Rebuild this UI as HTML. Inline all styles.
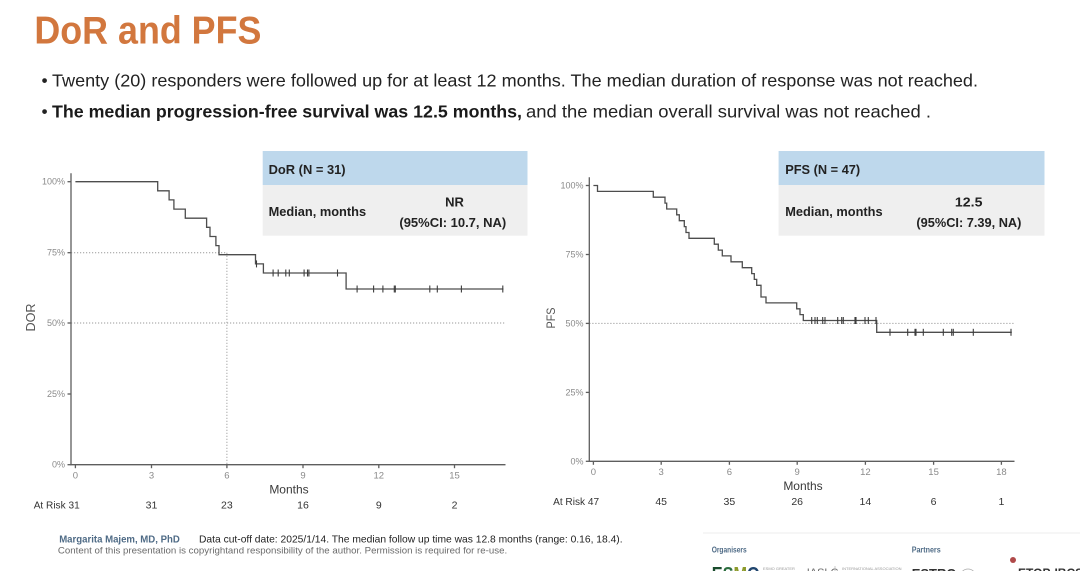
<!DOCTYPE html>
<html>
<head>
<meta charset="utf-8">
<style>
  html, body { margin:0; padding:0; background:#ffffff; }
  body { width:1080px; height:571px; overflow:hidden; }
  svg { display:block; }
  text { font-family: "Liberation Sans", Arial, sans-serif; }
</style>
</head>
<body>
<svg width="1080" height="571" viewBox="0 0 1080 571" xmlns="http://www.w3.org/2000/svg">
  <rect x="0" y="0" width="1080" height="571" fill="#ffffff"/>

  <!-- Title -->
  <text x="34.4" y="43.3" font-size="39" font-weight="bold" fill="#d2773e" textLength="227" lengthAdjust="spacingAndGlyphs">DoR and PFS</text>

  <!-- Bullets -->
  <text x="41.5" y="86.5" font-size="17.5" fill="#222">•</text>
  <text x="52" y="86.5" font-size="17.5" fill="#222" textLength="926" lengthAdjust="spacingAndGlyphs">Twenty (20) responders were followed up for at least 12 months. The median duration of response was not reached.</text>
  <text x="41.5" y="117.5" font-size="17.5" fill="#222">•</text>
  <text x="52" y="117.5" font-size="17.5" font-weight="bold" fill="#1a1a1a" textLength="470" lengthAdjust="spacingAndGlyphs">The median progression-free survival was 12.5 months,</text>
  <text x="526" y="117.5" font-size="17.5" fill="#222" textLength="405" lengthAdjust="spacingAndGlyphs">and the median overall survival was not reached .</text>

  <!-- ================= DoR chart ================= -->
  <!-- table -->
  <rect x="262.7" y="151" width="264.8" height="34" fill="#bed8ec"/>
  <rect x="262.7" y="185" width="264.8" height="50.7" fill="#efefef"/>
  <text x="268.6" y="174" font-size="13" font-weight="bold" fill="#222" textLength="77" lengthAdjust="spacingAndGlyphs">DoR (N = 31)</text>
  <text x="268.6" y="216" font-size="13" font-weight="bold" fill="#222" textLength="97.5" lengthAdjust="spacingAndGlyphs">Median, months</text>
  <text x="454.5" y="206.5" font-size="13" font-weight="bold" fill="#222" text-anchor="middle">NR</text>
  <text x="452.8" y="227" font-size="13" font-weight="bold" fill="#222" text-anchor="middle" textLength="106.8" lengthAdjust="spacingAndGlyphs">(95%CI: 10.7, NA)</text>

  <!-- dotted reference lines -->
  <g stroke="#9a9a9a" stroke-width="1" stroke-dasharray="1.2,1.8" fill="none">
    <line x1="71" y1="252.7" x2="226.9" y2="252.7"/>
    <line x1="226.9" y1="252.7" x2="226.9" y2="464.7"/>
    <line x1="71" y1="323" x2="506" y2="323"/>
  </g>

  <!-- axes -->
  <g stroke="#5e5e5e" stroke-width="1.3" fill="none">
    <line x1="71" y1="173.3" x2="71" y2="465.3"/>
    <line x1="70.4" y1="464.7" x2="505.5" y2="464.7"/>
    <line x1="67.5" y1="181.7" x2="71" y2="181.7"/>
    <line x1="67.5" y1="252.7" x2="71" y2="252.7"/>
    <line x1="67.5" y1="323" x2="71" y2="323"/>
    <line x1="67.5" y1="394" x2="71" y2="394"/>
    <line x1="67.5" y1="464.7" x2="71" y2="464.7"/>
    <line x1="75.4" y1="464.7" x2="75.4" y2="468.2"/>
    <line x1="151.5" y1="464.7" x2="151.5" y2="468.2"/>
    <line x1="226.9" y1="464.7" x2="226.9" y2="468.2"/>
    <line x1="303" y1="464.7" x2="303" y2="468.2"/>
    <line x1="378.8" y1="464.7" x2="378.8" y2="468.2"/>
    <line x1="454.5" y1="464.7" x2="454.5" y2="468.2"/>
  </g>
  <g font-size="9" fill="#8a8a8a" text-anchor="end">
    <text x="65" y="184.7">100%</text>
    <text x="65" y="255.7">75%</text>
    <text x="65" y="326">50%</text>
    <text x="65" y="397">25%</text>
    <text x="65" y="467.7">0%</text>
  </g>
  <g font-size="9.5" fill="#8a8a8a" text-anchor="middle">
    <text x="75.4" y="478.5">0</text>
    <text x="151.5" y="478.5">3</text>
    <text x="226.9" y="478.5">6</text>
    <text x="303" y="478.5">9</text>
    <text x="378.8" y="478.5">12</text>
    <text x="454.5" y="478.5">15</text>
  </g>
  <text x="289" y="493.5" font-size="12" fill="#3a3a3a" text-anchor="middle">Months</text>
  <text transform="translate(35,317.5) rotate(-90)" font-size="12.5" fill="#555" text-anchor="middle" textLength="28" lengthAdjust="spacingAndGlyphs">DOR</text>

  <!-- at risk -->
  <g font-size="10.5" fill="#333">
    <text x="33.7" y="508.3" textLength="46" lengthAdjust="spacingAndGlyphs">At Risk 31</text>
    <g text-anchor="middle">
      <text x="151.5" y="508.3">31</text>
      <text x="226.9" y="508.3">23</text>
      <text x="303" y="508.3">16</text>
      <text x="378.8" y="508.3">9</text>
      <text x="454.5" y="508.3">2</text>
    </g>
  </g>

  <!-- DoR curve -->
  <path d="M75.4,181.7 H157.7 V190.8 H169.1 V199.9 H173.9 V209.1 H185.3 V218.2 H206.6 V227.3 H210 V236.5 H215.9 V245.6 H219 V254.7 H255.5 V263.9 H263.4 V273 H346.1 V289 H503.4" stroke="#4d4d4d" stroke-width="1.3" fill="none"/>
  <g stroke="#3d3d3d" stroke-width="1.1">
    <line x1="256.5" y1="260.4" x2="256.5" y2="267.4"/>
    <line x1="273.1" y1="269.5" x2="273.1" y2="276.5"/>
    <line x1="278.2" y1="269.5" x2="278.2" y2="276.5"/>
    <line x1="285.8" y1="269.5" x2="285.8" y2="276.5"/>
    <line x1="289.3" y1="269.5" x2="289.3" y2="276.5"/>
    <line x1="304.1" y1="269.5" x2="304.1" y2="276.5"/>
    <line x1="307.5" y1="269.5" x2="307.5" y2="276.5"/>
    <line x1="308.9" y1="269.5" x2="308.9" y2="276.5"/>
    <line x1="337.5" y1="269.5" x2="337.5" y2="276.5"/>
    <line x1="357.1" y1="285.5" x2="357.1" y2="292.5"/>
    <line x1="373.6" y1="285.5" x2="373.6" y2="292.5"/>
    <line x1="382.9" y1="285.5" x2="382.9" y2="292.5"/>
    <line x1="394.3" y1="285.5" x2="394.3" y2="292.5"/>
    <line x1="395.3" y1="285.5" x2="395.3" y2="292.5"/>
    <line x1="429.8" y1="285.5" x2="429.8" y2="292.5"/>
    <line x1="437.3" y1="285.5" x2="437.3" y2="292.5"/>
    <line x1="461.4" y1="285.5" x2="461.4" y2="292.5"/>
    <line x1="502.8" y1="285.5" x2="502.8" y2="292.5"/>
  </g>

  <!-- ================= PFS chart ================= -->
  <rect x="778.6" y="151" width="265.9" height="34" fill="#bed8ec"/>
  <rect x="778.6" y="185" width="265.9" height="50.7" fill="#efefef"/>
  <text x="785.2" y="174" font-size="13" font-weight="bold" fill="#222" textLength="75" lengthAdjust="spacingAndGlyphs">PFS (N = 47)</text>
  <text x="785.2" y="216" font-size="13" font-weight="bold" fill="#222" textLength="97.4" lengthAdjust="spacingAndGlyphs">Median, months</text>
  <text x="968.7" y="206.5" font-size="13" font-weight="bold" fill="#222" text-anchor="middle" textLength="27.5" lengthAdjust="spacingAndGlyphs">12.5</text>
  <text x="968.9" y="227" font-size="13" font-weight="bold" fill="#222" text-anchor="middle" textLength="105" lengthAdjust="spacingAndGlyphs">(95%CI: 7.39, NA)</text>

  <g stroke="#9a9a9a" stroke-width="1" stroke-dasharray="1.2,1.8" fill="none">
    <line x1="589.3" y1="323.4" x2="1014" y2="323.4"/>
  </g>

  <g stroke="#5e5e5e" stroke-width="1.3" fill="none">
    <line x1="589.3" y1="177.3" x2="589.3" y2="461.9"/>
    <line x1="588.7" y1="461.3" x2="1014.5" y2="461.3"/>
    <line x1="585.8" y1="185.5" x2="589.3" y2="185.5"/>
    <line x1="585.8" y1="254.5" x2="589.3" y2="254.5"/>
    <line x1="585.8" y1="323.4" x2="589.3" y2="323.4"/>
    <line x1="585.8" y1="392.4" x2="589.3" y2="392.4"/>
    <line x1="585.8" y1="461.3" x2="589.3" y2="461.3"/>
    <line x1="593.4" y1="461.3" x2="593.4" y2="464.8"/>
    <line x1="661.2" y1="461.3" x2="661.2" y2="464.8"/>
    <line x1="729.4" y1="461.3" x2="729.4" y2="464.8"/>
    <line x1="797.2" y1="461.3" x2="797.2" y2="464.8"/>
    <line x1="865.4" y1="461.3" x2="865.4" y2="464.8"/>
    <line x1="933.6" y1="461.3" x2="933.6" y2="464.8"/>
    <line x1="1001.4" y1="461.3" x2="1001.4" y2="464.8"/>
  </g>
  <g font-size="9" fill="#8a8a8a" text-anchor="end">
    <text x="583.5" y="188.5">100%</text>
    <text x="583.5" y="257.5">75%</text>
    <text x="583.5" y="326.4">50%</text>
    <text x="583.5" y="395.4">25%</text>
    <text x="583.5" y="464.3">0%</text>
  </g>
  <g font-size="9.5" fill="#8a8a8a" text-anchor="middle">
    <text x="593.4" y="475.2">0</text>
    <text x="661.2" y="475.2">3</text>
    <text x="729.4" y="475.2">6</text>
    <text x="797.2" y="475.2">9</text>
    <text x="865.4" y="475.2">12</text>
    <text x="933.6" y="475.2">15</text>
    <text x="1001.4" y="475.2">18</text>
  </g>
  <text x="803" y="490" font-size="12" fill="#3a3a3a" text-anchor="middle">Months</text>
  <text transform="translate(555,318) rotate(-90)" font-size="11.5" fill="#555" text-anchor="middle" textLength="21" lengthAdjust="spacingAndGlyphs">PFS</text>

  <g font-size="10.5" fill="#333">
    <text x="553.1" y="505" textLength="46" lengthAdjust="spacingAndGlyphs">At Risk 47</text>
    <g text-anchor="middle">
      <text x="661.2" y="505">45</text>
      <text x="729.4" y="505">35</text>
      <text x="797.2" y="505">26</text>
      <text x="865.4" y="505">14</text>
      <text x="933.6" y="505">6</text>
      <text x="1001.4" y="505">1</text>
    </g>
  </g>

  <path d="M593.4,185.5 H597.5 V191.4 H653.3 V197.2 H665 V203.1 H666.7 V209 H676.7 V214.8 H679.3 V220.7 H684.3 V226.6 H686 V232.5 H689 V238.3 H714.3 V244.2 H718.3 V250.1 H722.3 V255.9 H731 V261.8 H742.3 V267.7 H751.7 V273.6 H754.3 V279.4 H756.7 V285.3 H761 V297 H766 V302.9 H796.7 V308.8 H800 V314.6 H803.3 V320.5 H876.7 V332.3 H1011.8" stroke="#4d4d4d" stroke-width="1.3" fill="none"/>
  <g stroke="#3d3d3d" stroke-width="1.1">
    <line x1="811.7" y1="317" x2="811.7" y2="324"/>
    <line x1="815" y1="317" x2="815" y2="324"/>
    <line x1="817.3" y1="317" x2="817.3" y2="324"/>
    <line x1="822.7" y1="317" x2="822.7" y2="324"/>
    <line x1="825" y1="317" x2="825" y2="324"/>
    <line x1="837.7" y1="317" x2="837.7" y2="324"/>
    <line x1="841.7" y1="317" x2="841.7" y2="324"/>
    <line x1="843.3" y1="317" x2="843.3" y2="324"/>
    <line x1="855" y1="317" x2="855" y2="324"/>
    <line x1="856" y1="317" x2="856" y2="324"/>
    <line x1="865" y1="317" x2="865" y2="324"/>
    <line x1="868.3" y1="317" x2="868.3" y2="324"/>
    <line x1="876" y1="317" x2="876" y2="324"/>
    <line x1="890" y1="328.8" x2="890" y2="335.8"/>
    <line x1="907.7" y1="328.8" x2="907.7" y2="335.8"/>
    <line x1="915" y1="328.8" x2="915" y2="335.8"/>
    <line x1="916" y1="328.8" x2="916" y2="335.8"/>
    <line x1="923.3" y1="328.8" x2="923.3" y2="335.8"/>
    <line x1="943.3" y1="328.8" x2="943.3" y2="335.8"/>
    <line x1="951.7" y1="328.8" x2="951.7" y2="335.8"/>
    <line x1="953.3" y1="328.8" x2="953.3" y2="335.8"/>
    <line x1="973.3" y1="328.8" x2="973.3" y2="335.8"/>
    <line x1="1011" y1="328.8" x2="1011" y2="335.8"/>
  </g>

  <!-- ================= Footer ================= -->
  <text x="59.2" y="542.5" font-size="10" font-weight="bold" fill="#4f6b86" textLength="120.6" lengthAdjust="spacingAndGlyphs">Margarita Majem, MD, PhD</text>
  <text x="199" y="542.5" font-size="10.5" fill="#222" textLength="423.6" lengthAdjust="spacingAndGlyphs">Data cut-off date: 2025/1/14. The median follow up time was 12.8 months (range: 0.16, 18.4).</text>
  <text x="57.9" y="553.5" font-size="9.5" fill="#6a6a6a" textLength="449.3" lengthAdjust="spacingAndGlyphs">Content of this presentation is copyrightand responsibility of the author. Permission is required for re-use.</text>

  <!-- logos area -->
  <line x1="703" y1="533" x2="1080" y2="533" stroke="#ececec" stroke-width="1"/>
  <text x="711.7" y="552.5" font-size="8" font-weight="bold" fill="#4f6b86" textLength="35" lengthAdjust="spacingAndGlyphs">Organisers</text>
  <text x="911.7" y="552.5" font-size="8" font-weight="bold" fill="#4f6b86" textLength="29" lengthAdjust="spacingAndGlyphs">Partners</text>
  <text x="711.7" y="581" font-size="20" font-weight="bold" textLength="48" lengthAdjust="spacingAndGlyphs"><tspan fill="#1b4d2e">E</tspan><tspan fill="#2c6e3f">S</tspan><tspan fill="#8c9a2a">M</tspan><tspan fill="#21466e">O</tspan></text>
  <text x="763" y="570" font-size="4" fill="#999">ESMO GREATER</text>
  <text x="806.7" y="576" font-size="11" fill="#6a6a6a" font-family="Liberation Serif, serif">IASLC</text>
  <line x1="835" y1="566" x2="835" y2="571" stroke="#bbb" stroke-width="0.8"/>
  <text x="842" y="570" font-size="4" fill="#999">INTERNATIONAL ASSOCIATION</text>
  <text x="911.7" y="578" font-size="13" font-weight="bold" fill="#333">ESTRO</text>
  <circle cx="968" cy="577" r="8" fill="none" stroke="#aaa" stroke-width="0.8"/>
  <circle cx="1013" cy="560" r="3" fill="#b04a4a"/>
  <text x="1018" y="577" font-size="12" font-weight="bold" fill="#333">ETOP-IBCSG</text>
</svg>
</body>
</html>
